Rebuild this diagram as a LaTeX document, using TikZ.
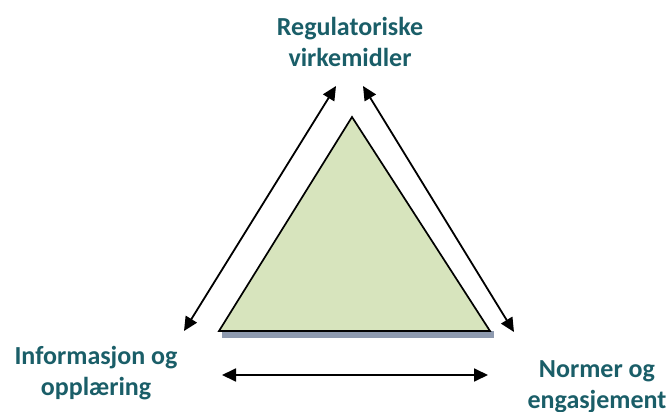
\documentclass[tikz,border=0pt]{standalone}
\usepackage{fontspec}
\setmainfont{Carlito}
\usetikzlibrary{arrows.meta}
\definecolor{teal}{RGB}{26,94,104}
\definecolor{trifill}{RGB}{215,228,189}
\definecolor{shadowc}{RGB}{142,154,175}
\tikzset{
  lbl/.style={text=teal, font=\bfseries\fontsize{26}{31}\selectfont, align=center, inner sep=0pt},
  dbl/.style={line width=1.8pt, {Triangle[length=14pt,width=13pt]}-{Triangle[length=14pt,width=13pt]}}
}
\begin{document}
\begin{tikzpicture}[x=1pt,y=-1pt]
\useasboundingbox (0,0) rectangle (670,412);
% shadow
\fill[shadowc] (222,331) rectangle (494,338);
% triangle
\draw[fill=trifill, line width=1.7pt, line join=miter] (352,117) coordinate (apex) -- (490,331) coordinate (br) -- (219,331) coordinate (bl) -- cycle;
% labels
\node[lbl] (top) at (350,42) {Regulatoriske\\virkemidler};
\node[lbl] (left) at (96,373) {Informasjon og\\opplæring};
\node[lbl] (right) at (597,387) {Normer og\\engasjement};
% arrows
\coordinate (l1) at (184,331);
\coordinate (l2) at (336,86);
\coordinate (r1) at (363,86);
\coordinate (r2) at (514,332);
\coordinate (b1) at (222,375);
\coordinate (b2) at (488,375);
\draw[dbl] (l1) -- (l2);
\draw[dbl] (r1) -- (r2);
\draw[dbl] (b1) -- (b2);
\end{tikzpicture}
\end{document}
